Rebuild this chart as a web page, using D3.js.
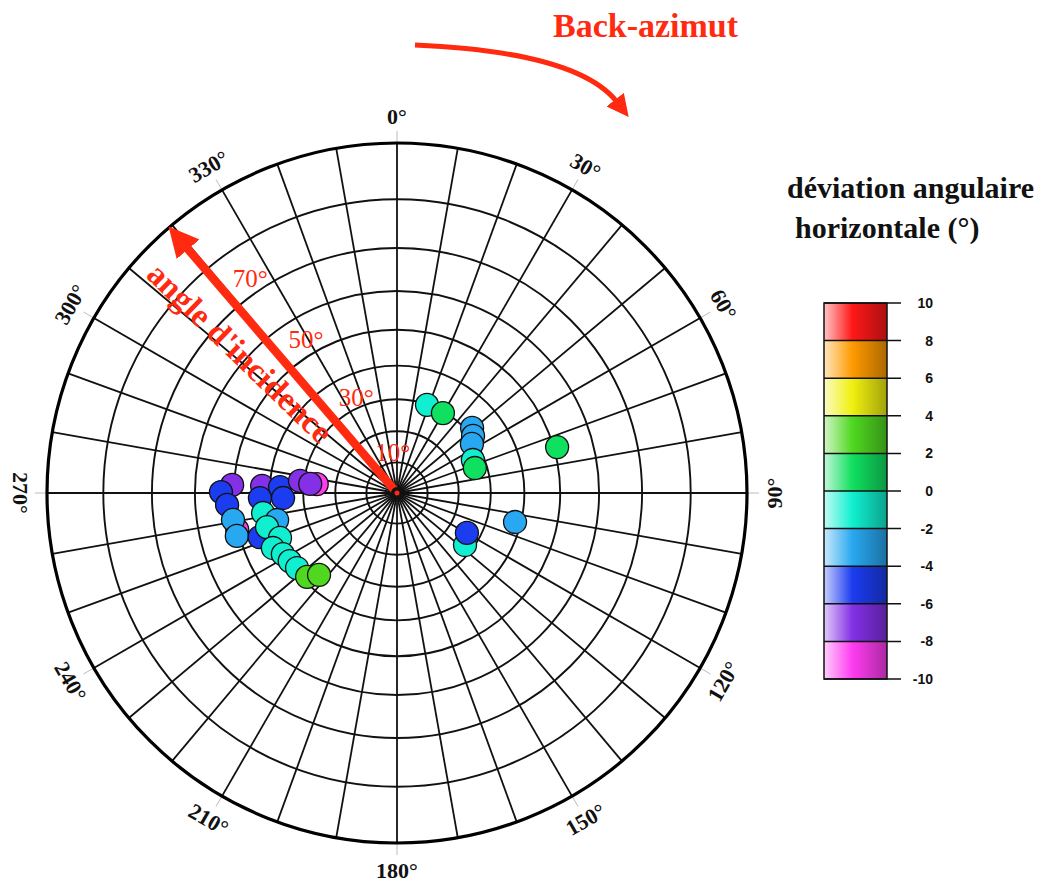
<!DOCTYPE html>
<html><head><meta charset="utf-8">
<script src="https://cdn.jsdelivr.net/npm/d3@7"></script>
<style>body{margin:0;background:#fff} svg{display:block}</style>
</head><body>
<svg id="chart" width="1045" height="881"></svg>
<script>
// ---- data ----
const backAzimuth = [18.8, 29.9, 49.1, 53.1, 56.8, 66.5, 72.2, 74.0, 103.8, 127.4, 119.7,
  257.0, 272.8, 270.3, 266.0, 260.7, 255.0, 273.0, 267.9, 272.9, 267.5, 276.3, 277.1, 276.0,
  261.5, 257.3, 252.2, 255.3, 249.0, 246.1, 241.8, 237.6, 233.1, 227.0, 223.6];
const incidence = [29.8, 29.5, 31.7, 30.4, 28.7, 26.6, 26.3, 50.9, 38.3, 27.5, 25.9,
  50.2, 50.5, 53.4, 51.9, 50.8, 50.7, 42.2, 42.8, 37.0, 36.1, 26.0, 31.2, 28.0,
  42.3, 38.7, 44.8, 42.0, 39.4, 42.4, 40.6, 39.9, 39.3, 38.7, 35.8];
const deviation = [-1, 1.5, -3, -3, -3, -1, 0.5, 1.5, -3, -1, -5,
  -9, -7, -5, -5, -3, -3, -7, -5, -5, -5, -9, -7, -7,
  -1, -3, -5, -1, -1, -0.5, -1, -0.5, -1, 3, 3];
const gridIncidence = [10, 20, 30, 40, 50, 60, 70, 80];
const gridAzimuth = d3.range(0, 360, 10);
const azimuthLabels = [0, 30, 60, 90, 120, 150, 180, 210, 240, 270, 300, 330];
const incidenceLabels = ["10°", "30°", "50°", "70°"];
const incidenceLabelPos = [[354, 13.4], [337, 33.1], [329.4, 54.1], [325.6, 73.2]];
const colorTicks = [-10, -8, -6, -4, -2, 0, 2, 4, 6, 8, 10];
const bandColors = ["#ff3cf0", "#8330e6", "#1c3cf0", "#28a8f0", "#10f0d0",
  "#10e060", "#50d820", "#f0f010", "#ff9a00", "#ff1818"];

// ---- layout ----
const svg = d3.select("#chart");
const cx = 397, cy = 493, R = 350;
const rTan = d3.scaleLinear().domain([0, 1]).range([0, R]);
const rOf = inc => rTan(Math.tan(inc * Math.PI / 360));
const aScale = d3.scaleLinear().domain([0, 360]).range([0, 2 * Math.PI]);
const px = (az, r) => cx + r * Math.sin(aScale(az));
const py = (az, r) => cy - r * Math.cos(aScale(az));
const RED = "#ff2a10";

const defs = svg.append("defs");
defs.append("marker").attr("id", "headBig").attr("markerUnits", "userSpaceOnUse")
  .attr("viewBox", "0 -15 30 30").attr("refX", 4).attr("refY", 0)
  .attr("markerWidth", 30).attr("markerHeight", 30).attr("orient", "auto")
  .append("path").attr("d", "M0,-15L30,0L0,15Z").attr("fill", RED);
defs.append("marker").attr("id", "headSmall").attr("markerUnits", "userSpaceOnUse")
  .attr("viewBox", "0 -11 22 22").attr("refX", 3).attr("refY", 0)
  .attr("markerWidth", 22).attr("markerHeight", 22).attr("orient", "auto")
  .append("path").attr("d", "M0,-11L22,0L0,11Z").attr("fill", RED);

// ---- grid ----
const g = svg.append("g");
g.selectAll("line.tick").data(azimuthLabels).join("line")
  .attr("x1", d => px(d, R)).attr("y1", d => py(d, R))
  .attr("x2", d => px(d, R + 12)).attr("y2", d => py(d, R + 12))
  .attr("stroke", "#bbb").attr("stroke-width", 1);
g.selectAll("line.rad").data(gridAzimuth).join("line")
  .attr("x1", cx).attr("y1", cy)
  .attr("x2", d => px(d, R)).attr("y2", d => py(d, R))
  .attr("stroke", "#111").attr("stroke-width", 1.8);
g.selectAll("circle.ring").data(gridIncidence).join("circle")
  .attr("cx", cx).attr("cy", cy).attr("r", d => rOf(d))
  .attr("fill", "none").attr("stroke", "#111").attr("stroke-width", 1.9);
g.append("circle").attr("cx", cx).attr("cy", cy).attr("r", rOf(90))
  .attr("fill", "none").attr("stroke", "#000").attr("stroke-width", 3.2);

// azimuth labels
g.selectAll("text.az").data(azimuthLabels).join("text")
  .attr("transform", d => {
    let rot = ((d + 90) % 180) - 90;
    if (d === 270) rot = 90;
    return `translate(${px(d, R + 27)},${py(d, R + 27)}) rotate(${rot})`;
  })
  .attr("text-anchor", "middle").attr("dominant-baseline", "central")
  .attr("font-family", "Liberation Serif, serif").attr("font-weight", "bold")
  .attr("font-size", 22).attr("fill", "#111").text(d => d + "°");

// ---- incidence arrow ----
svg.append("line").attr("x1", cx).attr("y1", cy)
  .attr("x2", px(319.4, 325)).attr("y2", py(319.4, 325))
  .attr("stroke", RED).attr("stroke-width", 8.5).attr("marker-end", "url(#headBig)");
svg.selectAll("text.inc").data(incidenceLabels).join("text")
  .attr("x", (d, i) => px(incidenceLabelPos[i][0], rOf(incidenceLabelPos[i][1])))
  .attr("y", (d, i) => py(incidenceLabelPos[i][0], rOf(incidenceLabelPos[i][1])))
  .attr("text-anchor", "middle").attr("dominant-baseline", "central")
  .attr("font-family", "Liberation Serif, serif").attr("font-size", 25)
  .attr("fill", RED).text(d => d);
svg.append("text").attr("transform", "translate(240,353) rotate(44)")
  .attr("text-anchor", "middle").attr("dominant-baseline", "central")
  .attr("font-family", "Liberation Serif, serif").attr("font-weight", "bold")
  .attr("font-size", 33).attr("fill", RED).text("angle d'incidence");

// ---- points ----
const color = d3.scaleThreshold().domain(colorTicks.slice(1, -1)).range(bandColors);
svg.append("g").selectAll("circle").data(deviation).join("circle")
  .attr("cx", (d, i) => px(backAzimuth[i], rOf(incidence[i])))
  .attr("cy", (d, i) => py(backAzimuth[i], rOf(incidence[i])))
  .attr("r", 11.5).attr("fill", d => color(d))
  .attr("stroke", "#111").attr("stroke-width", 1.3);

// center blob
svg.append("circle").attr("cx", cx).attr("cy", cy).attr("r", 6).attr("fill", "#111");
svg.append("circle").attr("cx", cx).attr("cy", cy).attr("r", 2.5).attr("fill", RED);

// ---- back-azimuth arrow ----
svg.append("path")
  .attr("d", "M415,45 Q578,52 617,102")
  .attr("fill", "none").attr("stroke", RED).attr("stroke-width", 5)
  .attr("marker-end", "url(#headSmall)");
svg.append("text").attr("x", 553).attr("y", 37)
  .attr("font-family", "Liberation Serif, serif").attr("font-weight", "bold")
  .attr("font-size", 34).attr("fill", RED).text("Back-azimut");

// ---- colorbar ----
const cb = svg.append("g");
const yCb = d3.scaleLinear().domain([-10, 10]).range([679, 303]);
const bx = 824, bw = 63;
bandColors.forEach((c, i) => {
  const grad = defs.append("linearGradient").attr("id", "band" + i)
    .attr("x1", "0%").attr("x2", "100%").attr("y1", "0%").attr("y2", "0%");
  grad.append("stop").attr("offset", "0%").attr("stop-color", d3.interpolateRgb(c, "#fff")(0.75));
  grad.append("stop").attr("offset", "45%").attr("stop-color", c);
  grad.append("stop").attr("offset", "100%").attr("stop-color", d3.color(c).darker(1.1));
});
cb.selectAll("rect").data(bandColors).join("rect")
  .attr("x", bx).attr("width", bw)
  .attr("y", (d, i) => yCb(colorTicks[i + 1]))
  .attr("height", (d, i) => yCb(colorTicks[i]) - yCb(colorTicks[i + 1]))
  .attr("fill", (d, i) => `url(#band${i})`);
cb.selectAll("line").data(colorTicks).join("line")
  .attr("x1", bx).attr("x2", bx + bw + 14)
  .attr("y1", d => yCb(d)).attr("y2", d => yCb(d))
  .attr("stroke", "#111").attr("stroke-width", 1.5);
cb.append("rect").attr("x", bx).attr("y", 303).attr("width", bw).attr("height", 376)
  .attr("fill", "none").attr("stroke", "#111").attr("stroke-width", 1.5);
cb.selectAll("text").data(colorTicks).join("text")
  .attr("x", 933).attr("y", d => yCb(d)).attr("text-anchor", "end")
  .attr("dominant-baseline", "central")
  .attr("font-family", "Liberation Sans, sans-serif").attr("font-weight", "bold")
  .attr("font-size", 14).attr("fill", "#111").text(d => d);

svg.append("text").attr("x", 787).attr("y", 198)
  .attr("font-family", "Liberation Serif, serif").attr("font-weight", "bold")
  .attr("font-size", 30).attr("fill", "#111").text("déviation angulaire");
svg.append("text").attr("x", 795).attr("y", 238)
  .attr("font-family", "Liberation Serif, serif").attr("font-weight", "bold")
  .attr("font-size", 30).attr("fill", "#111").text("horizontale (°)");
</script>
</body></html>
